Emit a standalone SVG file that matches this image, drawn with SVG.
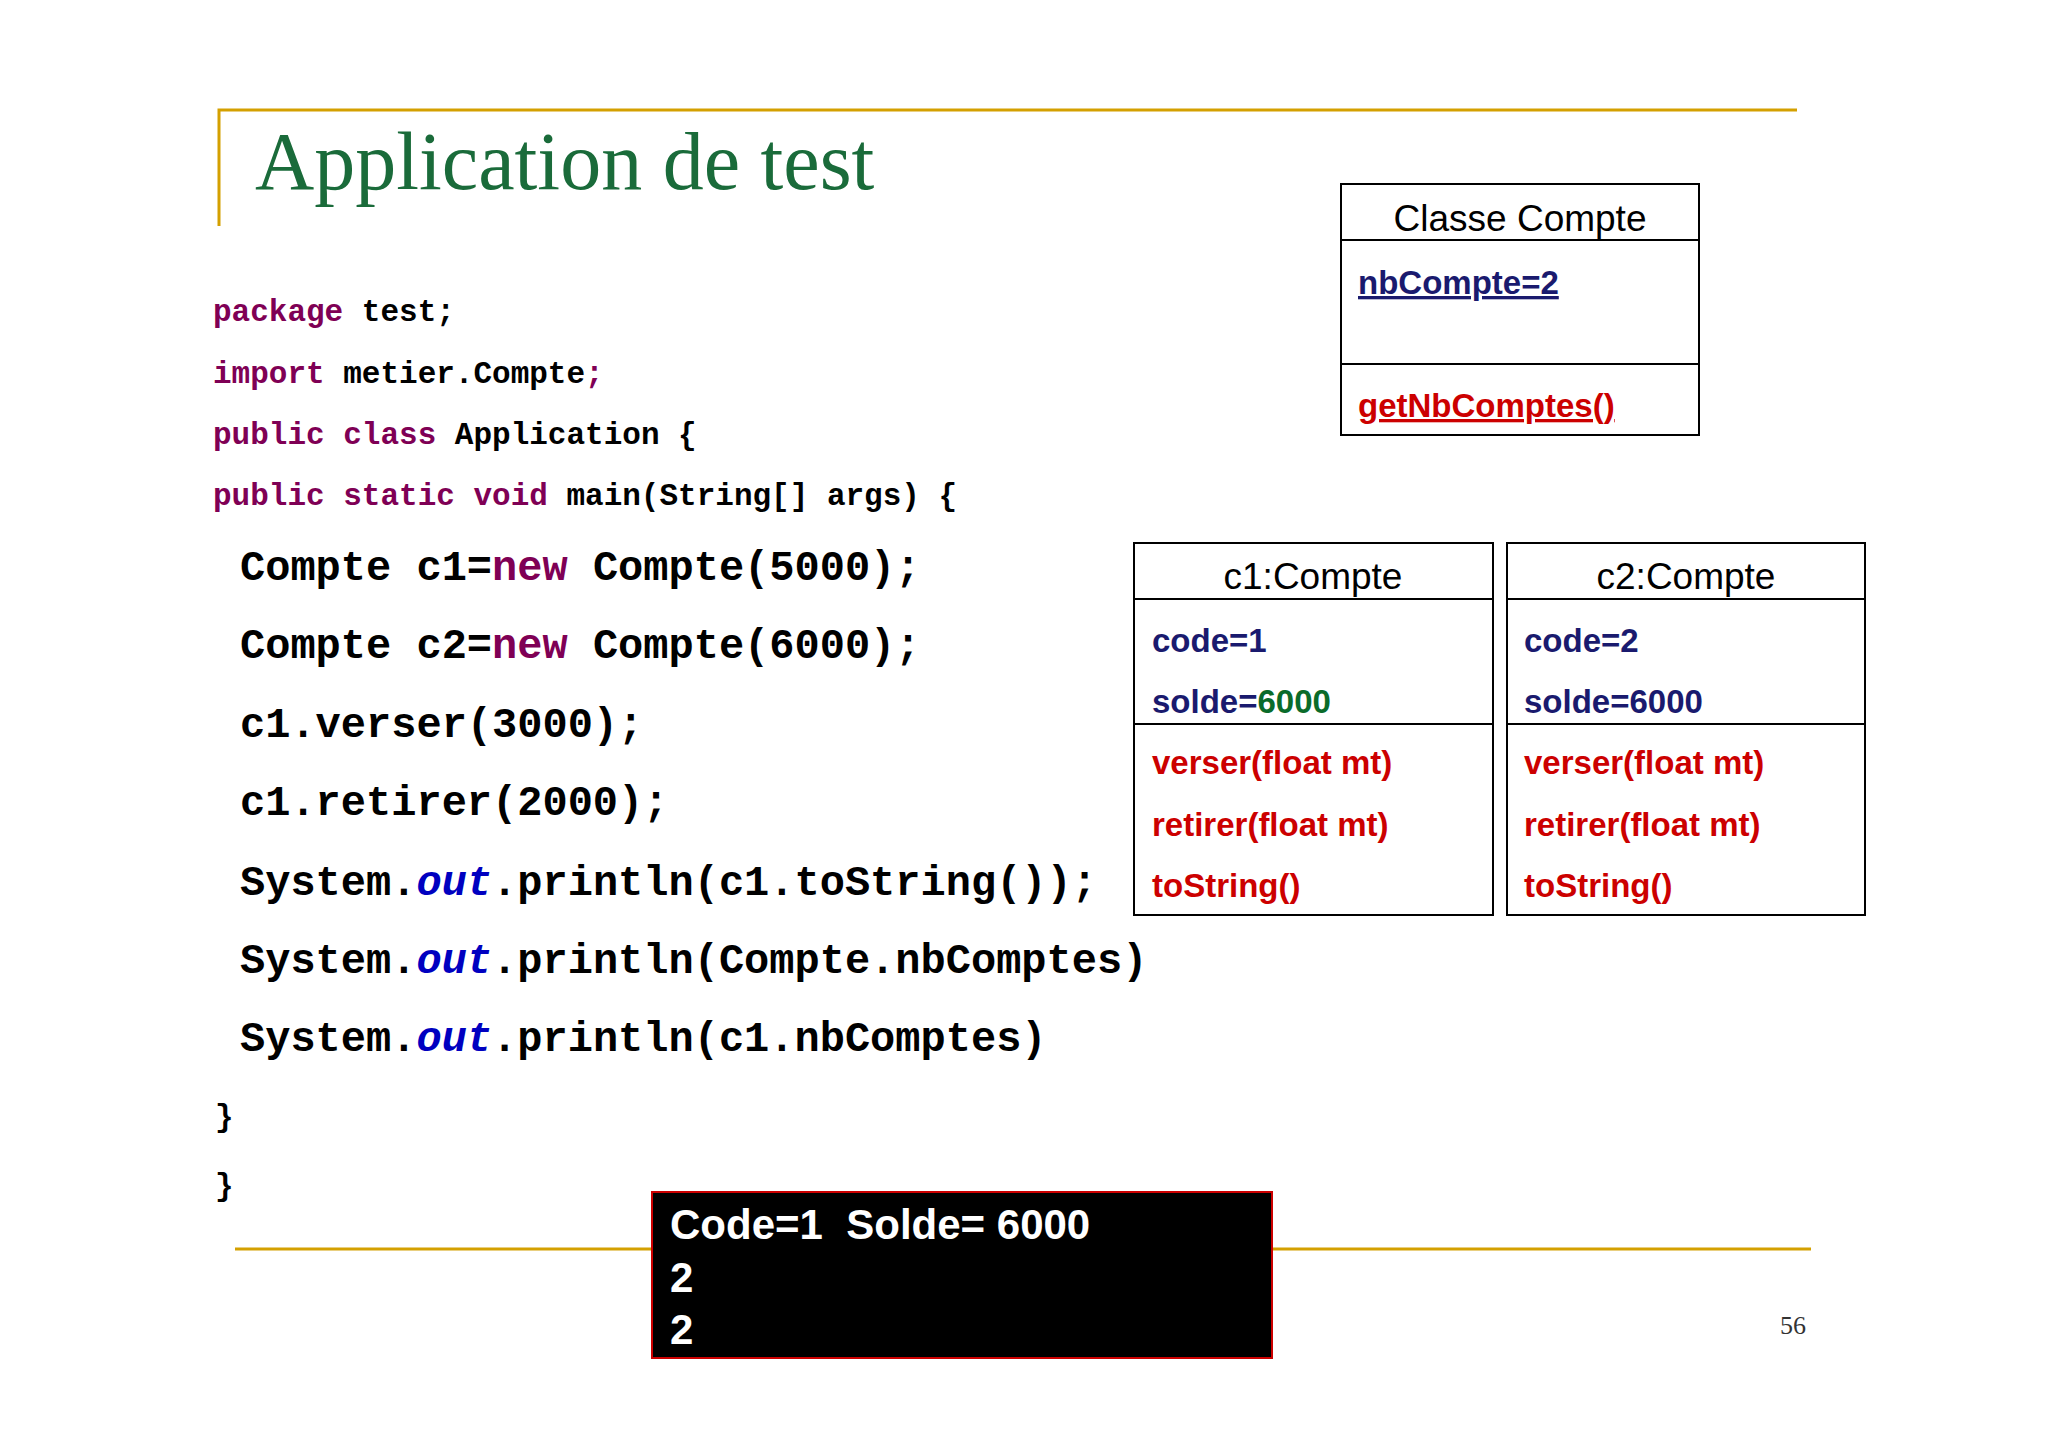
<svg xmlns="http://www.w3.org/2000/svg" width="2048" height="1447" viewBox="0 0 2048 1447">
<style>
.code{font-family:"Liberation Mono","Courier New",monospace;font-weight:bold;fill:#000}
.s{font-size:31px}.b{font-size:42px}
.kw{fill:#7f0055}.out{fill:#0000c0;font-style:italic}
.box{fill:#fff;stroke:#000;stroke-width:2}
.ttl{font-family:"Liberation Sans",Arial,sans-serif;font-size:37px;fill:#000;text-anchor:middle}
.att{font-family:"Liberation Sans",Arial,sans-serif;font-size:33px;font-weight:bold;fill:#1a1a6e}
.met{font-family:"Liberation Sans",Arial,sans-serif;font-size:33px;font-weight:bold;fill:#cc0000}
.gold{stroke:#d4a000;stroke-width:3;fill:none}
</style>
<rect width="2048" height="1447" fill="#fff"/>
<g id="frame">
<path class="gold" d="M219 226 V110 H1797"/>
<line class="gold" x1="235" y1="1249" x2="1811" y2="1249"/>
<text x="255" y="189" font-family="Liberation Serif,serif" font-size="82" fill="#1a6b3a">Application de test</text>
<text x="1780" y="1334" font-family="Liberation Serif,serif" font-size="26" fill="#333">56</text>
</g>
<g id="code">
<text class="code s" x="213" y="321"><tspan class="kw">package</tspan> test;</text>
<text class="code s" x="213" y="383"><tspan class="kw">import</tspan> metier.Compte<tspan class="kw">;</tspan></text>
<text class="code s" x="213" y="444"><tspan class="kw">public class</tspan> Application {</text>
<text class="code s" x="213" y="505"><tspan class="kw">public static void</tspan> main(String[] args) {</text>
<text class="code b" x="240" y="580">Compte c1=<tspan class="kw">new</tspan> Compte(5000);</text>
<text class="code b" x="240" y="658">Compte c2=<tspan class="kw">new</tspan> Compte(6000);</text>
<text class="code b" x="240" y="737">c1.verser(3000);</text>
<text class="code b" x="240" y="815">c1.retirer(2000);</text>
<text class="code b" x="240" y="895">System.<tspan class="out">out</tspan>.println(c1.toString());</text>
<text class="code b" x="240" y="973">System.<tspan class="out">out</tspan>.println(Compte.nbComptes)</text>
<text class="code b" x="240" y="1051">System.<tspan class="out">out</tspan>.println(c1.nbComptes)</text>
<text class="code s" x="215" y="1126">}</text>
<text class="code s" x="215" y="1195">}</text>
</g>
<g id="console">
<rect x="652" y="1192" width="620" height="166" fill="#000" stroke="#cc0000" stroke-width="2"/>
<g font-family="Liberation Sans,Arial,sans-serif" font-size="42" font-weight="bold" fill="#fff">
<text x="670" y="1239" xml:space="preserve">Code=1  Solde= 6000</text>
<text x="670" y="1292">2</text>
<text x="670" y="1344">2</text>
</g>
</g>
<g id="classeCompte">
<rect class="box" x="1341" y="184" width="358" height="251"/>
<line stroke="#000" stroke-width="2" x1="1341" y1="240" x2="1699" y2="240"/>
<line stroke="#000" stroke-width="2" x1="1341" y1="364" x2="1699" y2="364"/>
<text class="ttl" x="1520" y="231">Classe Compte</text>
<text class="att" x="1358" y="294" text-decoration="underline">nbCompte=2</text>
<text class="met" x="1358" y="417" text-decoration="underline">getNbComptes()</text>
</g>
<g id="c1">
<rect class="box" x="1134" y="543" width="359" height="372"/>
<line stroke="#000" stroke-width="2" x1="1134" y1="599" x2="1493" y2="599"/>
<line stroke="#000" stroke-width="2" x1="1134" y1="724" x2="1493" y2="724"/>
<text class="ttl" x="1313" y="589">c1:Compte</text>
<text class="att" x="1152" y="652">code=1</text>
<text class="att" x="1152" y="713">solde=<tspan fill="#0a6b2a">6000</tspan></text>
<text class="met" x="1152" y="774">verser(float mt)</text>
<text class="met" x="1152" y="836">retirer(float mt)</text>
<text class="met" x="1152" y="897">toString()</text>
</g>
<g id="c2">
<rect class="box" x="1507" y="543" width="358" height="372"/>
<line stroke="#000" stroke-width="2" x1="1507" y1="599" x2="1865" y2="599"/>
<line stroke="#000" stroke-width="2" x1="1507" y1="724" x2="1865" y2="724"/>
<text class="ttl" x="1686" y="589">c2:Compte</text>
<text class="att" x="1524" y="652">code=2</text>
<text class="att" x="1524" y="713">solde=6000</text>
<text class="met" x="1524" y="774">verser(float mt)</text>
<text class="met" x="1524" y="836">retirer(float mt)</text>
<text class="met" x="1524" y="897">toString()</text>
</g>
<g id="connectors"/>
</svg>
